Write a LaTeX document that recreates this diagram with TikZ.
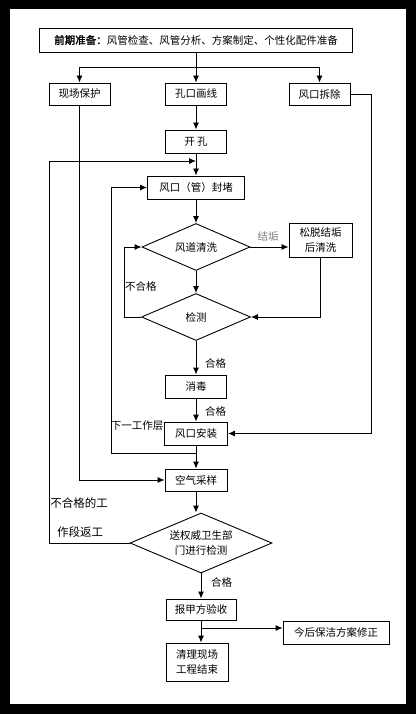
\documentclass[tikz,border=0pt]{standalone}
\usepackage{fontspec}
\setmainfont{Noto Sans CJK SC}[BoldFont={Noto Sans CJK SC},BoldFeatures={FakeBold=2}]
\usetikzlibrary{shapes.geometric,arrows.meta}

\begin{document}
\begin{tikzpicture}[x=1pt,y=-1pt,
    font=\fontsize{10.5}{15.5}\selectfont,
    box/.style={draw,line width=0.9pt,inner sep=0pt,minimum height=22pt,align=center},
    dia/.style={draw,diamond,shape aspect=2.3,line width=0.9pt,inner sep=0pt,align=center},
    flow/.style={line width=0.9pt,-{Latex[length=7pt,width=6pt]}},
    lbl/.style={inner sep=1pt}]
    % Frame
    \useasboundingbox (0,0) rectangle (416,714);
    \fill[black] (0,0) rectangle (416,714);
    \fill[white] (10,9) rectangle (406,704);

    % Steps
    \node[box,minimum width=313pt,minimum height=24pt] (prep) at (196,40) {\textbf{前期准备：}风管检查、风管分析、方案制定、个性化配件准备};
    \node[box,minimum width=61pt] (xcbh) at (79.5,94) {现场保护};
    \node[box,minimum width=61pt] (kkhx) at (196,94) {孔口画线};
    \node[box,minimum width=61pt] (fkcc) at (319.5,94) {风口拆除};
    \node[box,minimum width=61pt,minimum height=23pt] (kk) at (196,141.5) {开\ 孔};
    \node[box,minimum width=97pt,minimum height=23pt] (fd) at (196,187.5) {风口（管）封堵};
    \node[dia,minimum width=108pt,minimum height=47pt] (fdqx) at (196,247) {风道清洗};
    \node[box,minimum width=63pt,minimum height=34pt] (sjqx) at (320.5,240) {松脱结垢\\后清洗};
    \node[dia,minimum width=109pt,minimum height=47pt] (jc) at (196,317) {检测};
    \node[box,minimum width=61pt,minimum height=23pt] (xd) at (196,386.5) {消毒};
    \node[box,minimum width=63pt,minimum height=23pt] (fkaz) at (196,433.5) {风口安装};
    \node[box,minimum width=62pt] (kqcy) at (196,480) {空气采样};
    \node[dia,minimum width=142pt,minimum height=60pt] (sj) at (201,543) {送权威卫生部\\门进行检测};
    \node[box,minimum width=70pt,minimum height=21pt] (ysb) at (201,609.5) {报甲方验收};
    \node[box,minimum width=62pt,minimum height=38pt] (ql) at (197,662) {清理现场\\工程结束};
    \node[box,minimum width=106pt,minimum height=23pt] (xz) at (336,632.5) {今后保洁方案修正};

    % Labels
    \node[lbl,text=gray] (jg) at (268,237) {结垢};
    \node[lbl,anchor=west] (bhg) at (124,286) {不合格};
    \node[lbl,anchor=west] (hg1) at (204,363) {合格};
    \node[lbl,anchor=west] (hg2) at (204,411) {合格};
    \node[lbl] (xyc) at (137,426) {下一工作层};
    \node[lbl,font=\fontsize{11.5}{14}\selectfont] (fg1) at (79,503) {不合格的工};
    \node[lbl,font=\fontsize{11.5}{14}\selectfont] (fg2) at (80,532) {作段返工};
    \node[lbl,anchor=west] (hg3) at (210,582) {合格};

    % Main flow
    \coordinate (split) at (196,67);
    \draw[line width=0.9pt] (prep) -- (split);
    \foreach \n in {xcbh,kkhx,fkcc}
      \draw[flow] (split) -| (\n);
    \draw[flow] (kkhx) -- (kk);
    \draw[flow] (kk) -- (fd);
    \draw[flow] (fd) -- (fdqx);
    \draw[flow] (fdqx.east) -- (fdqx.east -| sjqx.west);
    \draw[flow] (sjqx) |- (jc.east);
    \draw[flow] (fdqx) -- (jc);
    \draw[flow] (jc) -- (xd);
    \draw[flow] (xd) -- (fkaz);
    \draw[flow] (fkaz) -- (kqcy);
    \draw[flow] (kqcy.south) -- (kqcy.south |- sj.north);
    \draw[flow] (sj.south) -- (sj.south |- ysb.north);
    \draw[flow] (ysb.south) -- (ysb.south |- ql.north);

    % Loops back
    \coordinate (jl) at (124,317);
    \draw[flow] (jc.west) -- (jl) |- (fdqx.west);
    \coordinate (nx) at (196,453);
    \coordinate (nl) at (111,453);
    \draw[flow] (nx) -- (nl) |- (fd.west);
    \draw[flow] (xcbh) |- (kqcy.west);
    \coordinate (fr) at (371,94);
    \draw[flow] (fkcc.east) -- (fr) |- (fkaz.east);
    \coordinate (bl) at (49,161);
    \coordinate (bj) at (196,161);
    \draw[flow] (sj.west) -| (bl) -- (bj);
    \coordinate (yb) at (201,628);
    \draw[flow] (yb) -- (yb -| xz.west);

\end{tikzpicture}
\end{document}
